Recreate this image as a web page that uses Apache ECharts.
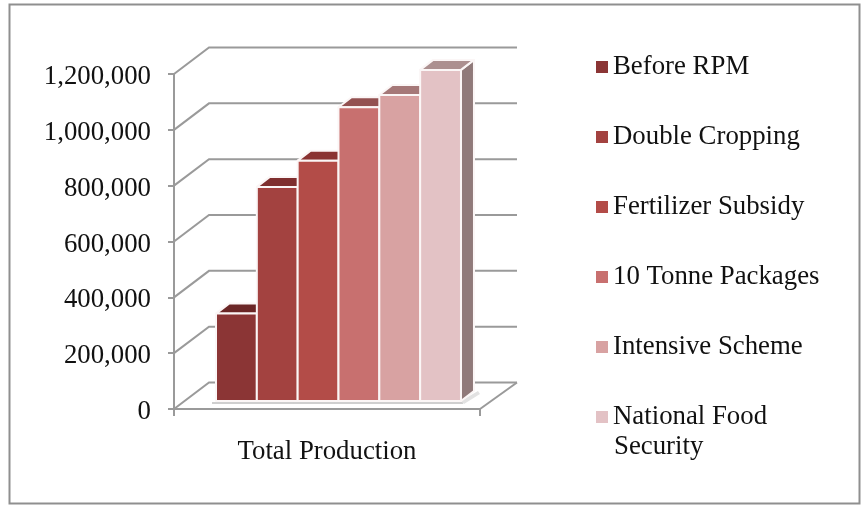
<!DOCTYPE html>
<html>
<head>
<meta charset="utf-8">
<style>
  html, body { margin: 0; padding: 0; background: #fff; }
  #chart { width: 861px; height: 505px; }
</style>
<script src="https://cdn.jsdelivr.net/npm/echarts@6/dist/echarts.min.js"></script>
</head>
<body>
<div id="chart"></div>
<script>
// Rice production under each programme, in tonnes
const categories = ['Total Production'];
const seriesNames = ['Before RPM', 'Double Cropping', 'Fertilizer Subsidy', '10 Tonne Packages', 'Intensive Scheme', 'National Food Security'];
const totalProduction = [313000, 767000, 861000, 1052000, 1096000, 1186000];
const yTicks = [0, 200000, 400000, 600000, 800000, 1000000, 1200000];
const yTickLabels = ['0', '200,000', '400,000', '600,000', '800,000', '1,000,000', '1,200,000'];

// Face colours of each column
const frontColors = ['#8b3535', '#a34240', '#b34c48', '#c8706f', '#d8a2a2', '#e3c2c5'];
const topColors = ['#6b2626', '#7f2f2f', '#8a3332', '#935151', '#a57878', '#ac9090'];
const sideColors = ['#5f2424', '#702c2c', '#7c3330', '#8a4f4e', '#967070', '#907a7a'];

const FONT = '"Liberation Serif", "Times New Roman", serif';
const GREY = '#9a9a9a';
const TEXT_SIZE = 26.8;

// Depth of the box behind the front plane, and of each column
const WALL_DX = 35, WALL_DY = 26.5;
const BAR_DX = 13, BAR_DY = 10, BAR_LIFT = 8;
const BAR_INSET = 42, BAR_STEP = 40.83;

function renderWall(params, api) {
  const p = api.coord([0, api.value(1)]);
  const halfBand = api.size([1, 0])[0] / 2;
  const left = p[0] - halfBand;
  const right = p[0] + halfBand;
  const children = [{
    type: 'polyline',
    shape: { points: [[left, p[1]], [left + WALL_DX, p[1] - WALL_DY], [right + WALL_DX + 2, p[1] - WALL_DY]] },
    style: { stroke: GREY, lineWidth: 2, fill: null }
  }];
  if (api.value(1) === 0) {
    children.push({
      type: 'polyline',
      shape: { points: [[right, p[1]], [right + WALL_DX + 2, p[1] - WALL_DY]] },
      style: { stroke: GREY, lineWidth: 2, fill: null }
    });
  }
  return { type: 'group', children };
}

function makeBarRenderer(index) {
  return function (params, api) {
    const base = api.coord([0, 0]);
    const top = api.coord([0, api.value(1)]);
    const band = api.size([1, 0])[0];
    const x0 = base[0] - band / 2 + BAR_INSET + index * BAR_STEP;
    const x1 = x0 + BAR_STEP;
    const yb = base[1] - BAR_LIFT;
    const yt = top[1] - BAR_LIFT;
    const edge = { stroke: '#fbf6f6', lineWidth: 2, lineJoin: 'round' };
    return {
      type: 'group',
      children: [
        {
          type: 'line',
          shape: { x1: x0 - 4, y1: yb + 2, x2: x1 + 2, y2: yb + 2 },
          style: { stroke: '#cfcfcf', lineWidth: 2 }
        },
        {
          type: 'polygon',
          shape: { points: [[x1, yb], [x1 + BAR_DX + 4, yb - BAR_DY], [x1 + BAR_DX + 6, yb - BAR_DY + 3], [x1 + 3, yb + 3]] },
          style: { fill: '#e2e2e2' }
        },
        {
          type: 'polygon',
          shape: { points: [[x1, yt], [x1 + BAR_DX, yt - BAR_DY], [x1 + BAR_DX, yb - BAR_DY], [x1, yb]] },
          style: Object.assign({ fill: sideColors[index] }, edge)
        },
        {
          type: 'polygon',
          shape: { points: [[x0, yt], [x0 + BAR_DX, yt - BAR_DY], [x1 + BAR_DX, yt - BAR_DY], [x1, yt]] },
          style: Object.assign({ fill: topColors[index] }, edge)
        },
        {
          type: 'rect',
          shape: { x: x0, y: yt, width: BAR_STEP, height: yb - yt },
          style: Object.assign({ fill: frontColors[index] }, edge)
        }
      ]
    };
  };
}

const chart = echarts.init(document.getElementById('chart'), null, { renderer: 'canvas' });

const barSeries = seriesNames.map((name, i) => ({
  type: 'custom',
  name,
  renderItem: makeBarRenderer(i),
  itemStyle: { color: frontColors[i] },
  encode: { x: 0, y: 1 },
  data: [[0, totalProduction[i]]],
  z: 3
}));

chart.setOption({
  animation: false,
  backgroundColor: '#fff',
  textStyle: { fontFamily: FONT },
  grid: { left: 174, right: 381, top: 74, bottom: 96 },
  xAxis: {
    type: 'category',
    data: categories,
    axisLine: { lineStyle: { color: GREY, width: 2 } },
    axisTick: { show: true, length: 7, lineStyle: { color: GREY, width: 2 } },
    axisLabel: { color: '#111', fontSize: TEXT_SIZE, fontFamily: FONT, margin: 29 }
  },
  yAxis: {
    type: 'value',
    min: 0,
    max: 1200000,
    interval: 200000,
    splitLine: { show: false },
    axisLine: { show: true, lineStyle: { color: GREY, width: 2 } },
    axisTick: { show: true, length: 6, lineStyle: { color: GREY, width: 2 } },
    axisLabel: {
      color: '#111',
      fontSize: TEXT_SIZE,
      fontFamily: FONT,
      margin: 23,
      verticalAlign: 'top',
      lineHeight: 6,
      formatter: v => yTickLabels[yTicks.indexOf(v)]
    }
  },
  legend: {
    orient: 'vertical',
    left: 591,
    top: 47,
    itemWidth: 12,
    itemHeight: 12,
    itemGap: 40,
    icon: 'rect',
    data: seriesNames,
    formatter: name => name === 'National Food Security' ? 'National Food' : name,
    textStyle: { color: '#111', fontSize: TEXT_SIZE, lineHeight: 30, fontFamily: FONT }
  },
  graphic: [
    {
      type: 'rect',
      silent: true,
      z: -10,
      shape: { x: 9.5, y: 4.5, width: 850, height: 499 },
      style: { fill: 'none', stroke: '#8f8f8f', lineWidth: 2 }
    },
    {
      type: 'text',
      silent: true,
      left: 614,
      top: 433,
      style: { text: 'Security', fill: '#111', font: TEXT_SIZE + 'px ' + FONT }
    }
  ],
  series: [
    {
      type: 'custom',
      name: 'Walls',
      renderItem: renderWall,
      encode: { x: 0, y: 1 },
      data: yTicks.map(v => [0, v]),
      silent: true,
      z: 1
    }
  ].concat(barSeries)
});
</script>
</body>
</html>
